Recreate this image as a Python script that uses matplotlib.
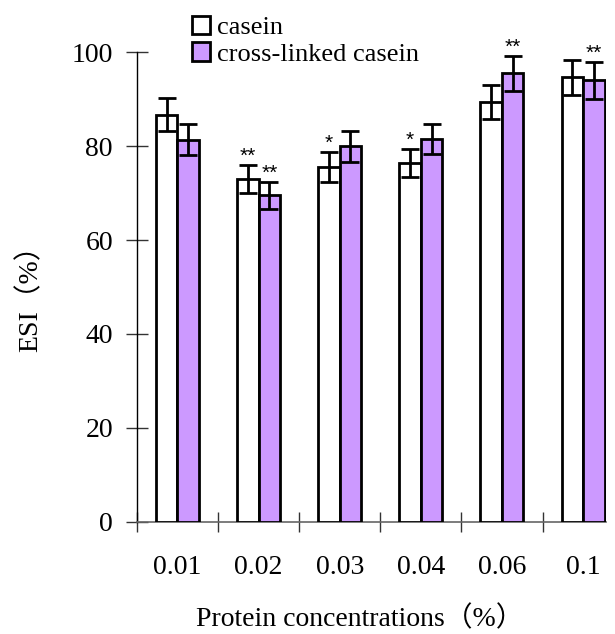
import matplotlib

matplotlib.use("Agg")
import matplotlib.pyplot as plt
import numpy as np

plt.rcParams["font.family"] = ["Liberation Serif", "Noto Sans CJK SC"]

concentrations = ["0.01", "0.02", "0.03", "0.04", "0.06", "0.1"]
casein = [86.7, 73.0, 75.6, 76.4, 89.4, 94.7]
casein_err = [3.5, 3.0, 3.2, 3.0, 3.6, 3.7]
crosslinked = [81.4, 69.5, 80.0, 81.5, 95.5, 94.0]
crosslinked_err = [3.3, 2.8, 3.3, 3.2, 3.8, 3.9]
casein_marks = ["", "**", "*", "*", "", ""]
crosslinked_marks = ["", "**", "", "", "**", "**"]

purple = "#cc99ff"
w = 0.265
x = np.arange(len(concentrations))

fig = plt.figure(figsize=(6.15, 6.34), dpi=100)
ax = fig.add_axes([0.2225, 0.1771, 0.7626, 0.7404])

err_kw = dict(ecolor="black", elinewidth=2, capthick=2)
b1 = ax.bar(x - w / 2, casein, w, color="white", edgecolor="black", linewidth=2,
            yerr=casein_err, capsize=6.5, error_kw=err_kw, label="casein", zorder=3)
b2 = ax.bar(x + w / 2, crosslinked, w, color=purple, edgecolor="black", linewidth=2,
            yerr=crosslinked_err, capsize=6.5, error_kw=err_kw,
            label="cross-linked casein", zorder=3)

# significance marks above the error bars
for xs, vals, errs, marks in [(x - w / 2, casein, casein_err, casein_marks),
                              (x + w / 2, crosslinked, crosslinked_err, crosslinked_marks)]:
    for xi, v, e, m in zip(xs, vals, errs, marks):
        if m:
            ax.text(xi, v + e + 0.65, m, ha="center", va="baseline",
                    family="Liberation Sans", fontsize=15)

ax.set_xlim(-0.5, 5.28)
ax.set_ylim(0, 100)
ax.set_yticks([0, 20, 40, 60, 80, 100])
ax.set_xticks(x)
ax.set_xticklabels(concentrations)
ax.set_xticks(np.arange(-0.5, 5.0, 1.0), minor=True)
ax.tick_params(axis="x", which="major", length=0, pad=24, labelsize=20)
ax.tick_params(axis="x", which="minor", direction="inout", length=14, width=1, color="#333333")
ax.tick_params(axis="y", direction="inout", length=16.5, width=1, color="#333333",
               pad=9, labelsize=20)

for s in ["top", "right"]:
    ax.spines[s].set_visible(False)
ax.spines["left"].set_color("black")
ax.spines["left"].set_linewidth(1)
ax.spines["bottom"].set_color("#666666")
ax.spines["bottom"].set_linewidth(1.2)

ax.set_ylabel("ESI（%）", fontsize=20)
ax.yaxis.set_label_coords(-0.2, 0.49)
ax.set_xlabel("Protein concentrations（%）", fontsize=20)
ax.xaxis.set_label_coords(0.475, -0.18)

ax.legend(handles=[b1, b2], loc="upper left", frameon=False, fontsize=19,
          bbox_to_anchor=(191.7 / 615, 1 - 16 / 634), bbox_transform=fig.transFigure,
          borderpad=0, borderaxespad=0, handlelength=0.7, handleheight=0.7,
          handletextpad=0.25, labelspacing=0.1)

fig.savefig("out.png", dpi=100)
